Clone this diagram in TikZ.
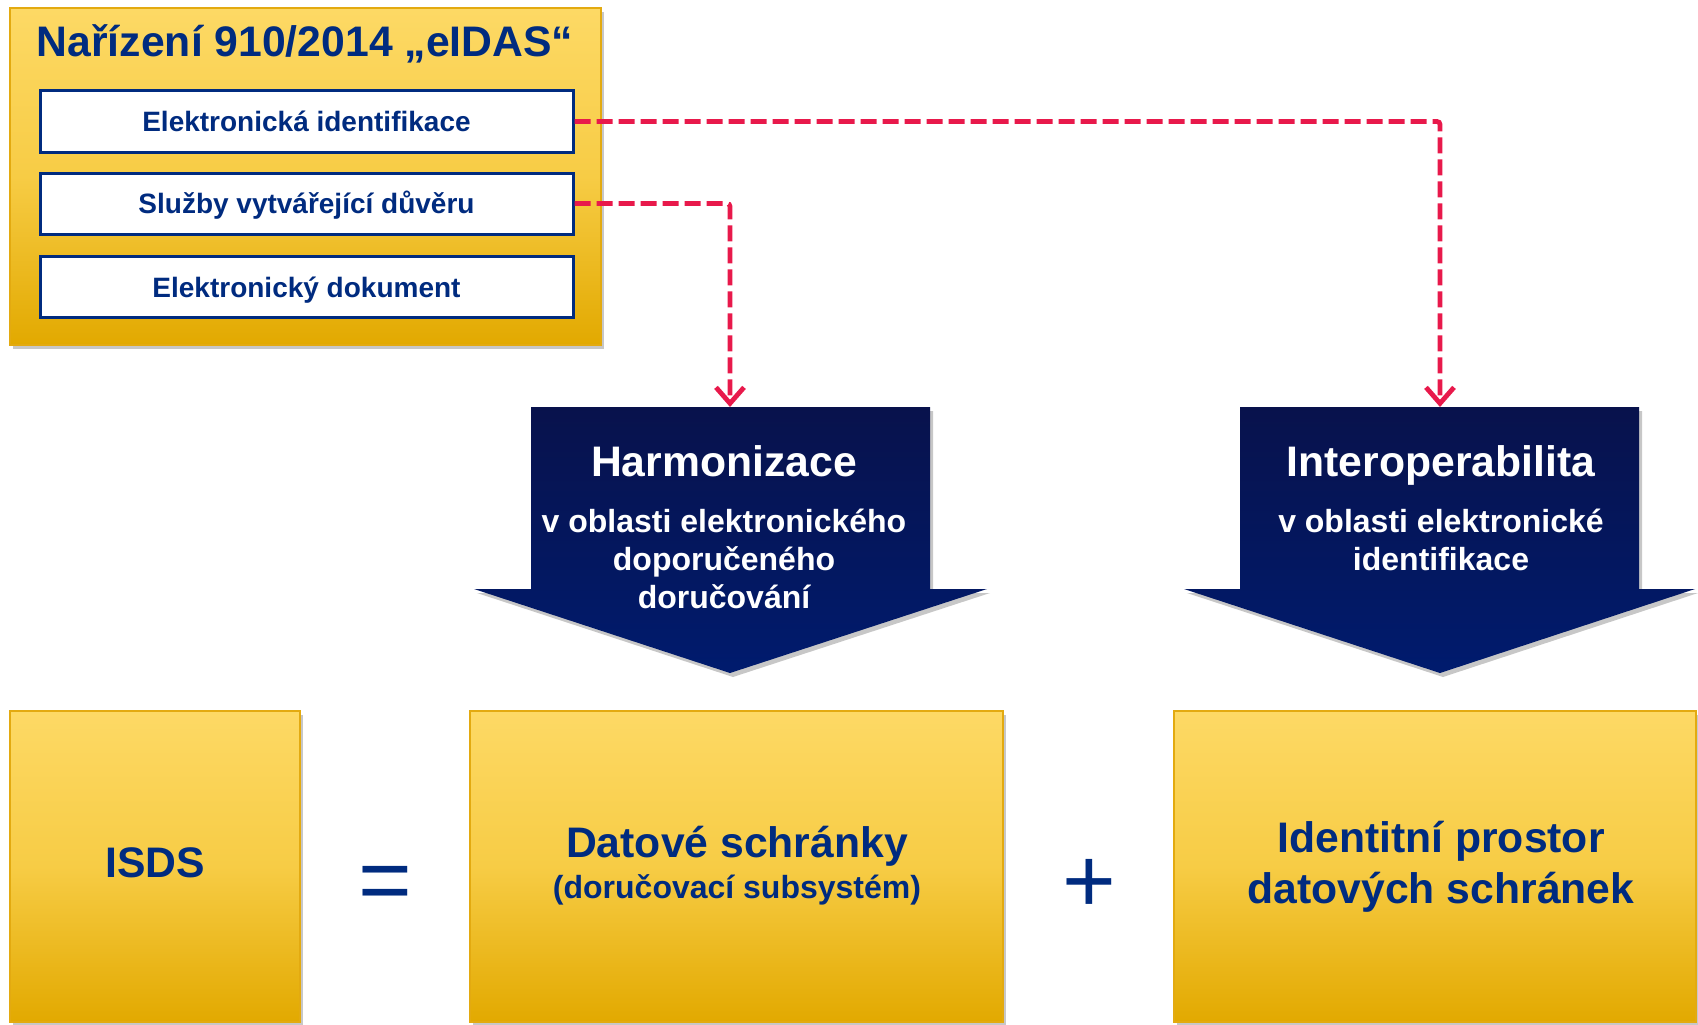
\documentclass[tikz,border=0pt]{standalone}
\usepackage{fontspec}
\setmainfont{Liberation Sans}
\usetikzlibrary{arrows.meta,shadows}
\definecolor{navy}{HTML}{002B7F}
\definecolor{goldtop}{HTML}{FDD965}
\definecolor{goldmid}{HTML}{F7CC45}
\definecolor{goldbot}{HTML}{E2A900}
\definecolor{goldline}{HTML}{E3AA10}
\definecolor{arrowtop}{HTML}{08124C}
\definecolor{arrowbot}{HTML}{001B6E}
\definecolor{linkred}{HTML}{E8194B}
\tikzset{
	shade/.style={drop shadow={shadow xshift=3pt, shadow yshift=-4pt, opacity=0.22, fill=black}},
	goldbox/.style={draw=goldline, line width=1.3pt, top color=goldtop, bottom color=goldbot, middle color=goldmid, shade, inner sep=0pt},
	item/.style={draw=navy, line width=3pt, fill=white, minimum width=533pt, minimum height=61pt, inner sep=0pt,
		text=navy, font=\fontsize{28}{33}\selectfont\bfseries, text height=20.2pt, text depth=0pt},
	bigarrow/.style={top color=arrowtop, bottom color=arrowbot, shade},
	link/.style={draw=linkred, line width=4.8pt, dash pattern=on 16pt off 6pt, rounded corners=3pt, -{Straight Barb[length=16pt,width=28pt]}},
	bigtext/.style={text=navy, font=\fontsize{42.7}{51}\selectfont\bfseries, inner sep=0pt},
	midtext/.style={text=navy, font=\fontsize{32}{38}\selectfont\bfseries, inner sep=0pt},
	opsign/.style={text=navy, font=\fontsize{92}{92}\selectfont, inner sep=0pt}
}
\begin{document}
\begin{tikzpicture}[x=1pt,y=-1pt]
	\useasboundingbox (0,0) rectangle (1698,1025);
	% eIDAS panel
	\node[goldbox, minimum width=591pt, minimum height=337pt] (eidas) at (305.5,176.5) {};
	\node[bigtext, anchor=base] (eidastitle) at (305,57) {Nařízení 910/2014 „eIDAS“};
	\node[item] (eid) at (306.5,121.5) {Elektronická identifikace};
	\node[item] (trust) at (306.5,203.5) {Služby vytvářející důvěru};
	\node[item] (edoc) at (306.5,287) {Elektronický dokument};
	% big arrows
	\path[bigarrow] (531,407) -- (930,407) -- (930,589) -- (987,589) -- (730,673) -- (474,589) -- (531,589) -- cycle;
	\path[bigarrow] (1240,407) -- (1639,407) -- (1639,589) -- (1695,589) -- (1440,673) -- (1184,589) -- (1240,589) -- cycle;
	\coordinate (harmtop) at (730,407);
	\coordinate (intertop) at (1440,407);
	\node[bigtext, text=white, anchor=base] (harm) at (724,476) {Harmonizace};
	\node[midtext, text=white, align=center, anchor=north] (harmsub) at (724,508.7) {v oblasti elektronického\\doporučeného\\doručování};
	\node[bigtext, text=white, anchor=base] (inter) at (1441,476) {Interoperabilita};
	\node[midtext, text=white, align=center, anchor=north] (intersub) at (1441,508.7) {v oblasti elektronické\\identifikace};
	% links
	\draw[link] (trust.east) -| (harmtop);
	\draw[link] (eid.east) -| (intertop);
	% bottom row
	\node[goldbox, minimum width=290pt, minimum height=311pt] (isds) at (155,866.5) {};
	\node[goldbox, minimum width=533pt, minimum height=311pt] (ds) at (736.5,866.5) {};
	\node[goldbox, minimum width=522pt, minimum height=311pt] (idp) at (1435,866.5) {};
	\node[bigtext, anchor=base] (isdsname) at (155,877) {ISDS};
	\node[bigtext, anchor=base] (dsname) at (737,857) {Datové schránky};
	\node[midtext, anchor=base] (dssub) at (737,898) {(doručovací subsystém)};
	\node[bigtext, align=center, anchor=north] (idpname) at (1441,821) {Identitní prostor\\datových schránek};
	\node[opsign, anchor=base] (eq) at (385,911) {=};
	\node[opsign, anchor=base] (plus) at (1089,912) {+};
\end{tikzpicture}
\end{document}
